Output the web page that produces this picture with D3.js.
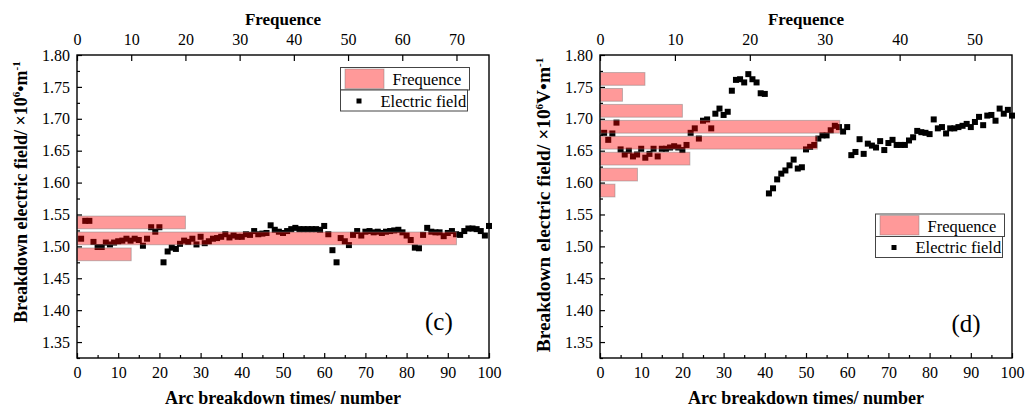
<!DOCTYPE html>
<html><head><meta charset="utf-8">
<script src="https://cdn.jsdelivr.net/npm/d3@7"></script>
<style>body{margin:0;background:#fff} svg text{font-family:'Liberation Serif','Times New Roman',serif}</style>
</head><body><svg id="c" width="1032" height="409"></svg>
<script>
const breakdownNumber = d3.range(1, 101);
const fieldC = [1.512,1.540,1.540,1.507,1.499,1.499,1.506,1.503,1.506,1.508,
1.509,1.512,1.509,1.512,1.510,1.501,1.512,1.530,1.523,1.530,
1.475,1.492,1.498,1.496,1.504,1.509,1.507,1.512,1.503,1.515,
1.505,1.508,1.512,1.513,1.515,1.519,1.514,1.517,1.515,1.515,
1.519,1.518,1.524,1.519,1.520,1.521,1.533,1.526,1.523,1.521,
1.524,1.527,1.529,1.527,1.527,1.527,1.527,1.527,1.526,1.532,
1.519,1.494,1.475,1.513,1.508,1.502,1.518,1.524,1.517,1.523,
1.524,1.522,1.523,1.521,1.523,1.524,1.525,1.526,1.522,1.517,
1.510,1.498,1.497,1.518,1.529,1.523,1.522,1.522,1.516,1.521,
1.524,1.519,1.518,1.524,1.528,1.528,1.527,1.524,1.517,1.532];
const fieldD = [1.678,1.667,1.677,1.694,1.652,1.644,1.650,1.641,1.644,1.653,
1.639,1.645,1.653,1.641,1.653,1.653,1.655,1.657,1.655,1.651,
1.659,1.678,1.685,1.669,1.697,1.699,1.685,1.708,1.716,1.706,
1.711,1.744,1.761,1.762,1.757,1.770,1.762,1.757,1.740,1.739,
1.583,1.591,1.605,1.614,1.619,1.627,1.636,1.622,1.624,1.652,
1.656,1.659,1.669,1.674,1.674,1.682,1.689,1.687,1.680,1.687,
1.643,1.648,1.668,1.645,1.661,1.658,1.655,1.665,1.651,1.662,
1.667,1.659,1.659,1.659,1.666,1.671,1.681,1.679,1.678,1.676,
1.699,1.685,1.687,1.677,1.685,1.685,1.687,1.689,1.692,1.687,
1.695,1.703,1.690,1.705,1.706,1.697,1.716,1.708,1.714,1.705];
const binCentersC = [1.4875, 1.5125, 1.5375];
const binCountsC = [10, 70, 20];
const binCentersD = [1.5875, 1.6125, 1.6375, 1.6625, 1.6875, 1.7125, 1.7375, 1.7625];
const binCountsD = [2, 5, 12, 29, 32, 11, 3, 6];
const binWidth = 0.025;
const xTicks = [0,10,20,30,40,50,60,70,80,90,100];
const yTicks = [1.35,1.40,1.45,1.50,1.55,1.60,1.65,1.70,1.75,1.80];
const freqTicksC = [0,10,20,30,40,50,60,70];
const freqTicksD = [0,10,20,30,40,50];
const panelLabels = ["(c)", "(d)"];
const legendLabels = ["Frequence", "Electric field"];
const xTitle = "Arc breakdown times/ number";
const topTitle = "Frequence";

const svg = d3.select("#c");
const FONT = "'Liberation Serif','Times New Roman',serif";

function panel(o) {
  const x = d3.scaleLinear().domain([0, 100]).range([o.x0, o.x1]);
  const y = d3.scaleLinear().domain([1.325, 1.80]).range([358, 55]);
  const f = d3.scaleLinear().domain([0, o.fmax]).range([o.x0, o.x1]);
  const g = svg.append("g");

  // points
  g.append("g").selectAll("rect").data(o.values).join("rect")
    .attr("x", (d, i) => x(breakdownNumber[i]) - 3)
    .attr("y", d => y(d) - 3)
    .attr("width", 6).attr("height", 6).attr("fill", "#000");

  // frequency bars
  const bh = (y(0) - y(binWidth)) * 0.8;
  g.append("g").selectAll("rect").data(o.centers).join("rect")
    .attr("x", f(0))
    .attr("y", d => y(d) - bh / 2)
    .attr("width", (d, i) => f(o.counts[i]) - f(0))
    .attr("height", bh)
    .attr("fill", "#ff0000").attr("fill-opacity", 0.4)
    .attr("stroke", "#777").attr("stroke-opacity", 0.45).attr("stroke-width", 1);

  // axes
  const fs = "16px";
  const styleAxis = sel => {
    sel.select(".domain").remove();
    sel.attr("font-family", null);
    sel.selectAll("text").style("font-family", FONT).style("font-size", fs).attr("fill", "#000");
    sel.selectAll("line").attr("stroke", "#000").attr("stroke-width", 1.2);
  };
  g.append("g").attr("transform", `translate(0,358)`)
    .call(d3.axisBottom(x).tickValues(xTicks).tickFormat(d3.format("d")).tickSizeInner(-5).tickSizeOuter(0).tickPadding(9)).call(styleAxis);
  g.append("g").attr("transform", `translate(0,358)`)
    .call(d3.axisBottom(x).tickValues(d3.range(5, 100, 10)).tickFormat("").tickSizeInner(-3).tickSizeOuter(0)).call(styleAxis);
  g.append("g").attr("transform", `translate(${o.x0},0)`)
    .call(d3.axisLeft(y).tickValues(yTicks).tickFormat(d3.format(".2f")).tickSizeInner(-5).tickSizeOuter(0).tickPadding(7)).call(styleAxis);
  g.append("g").attr("transform", `translate(${o.x0},0)`)
    .call(d3.axisLeft(y).tickValues(yTicks.map(v => v - 0.025)).tickFormat("").tickSizeInner(-3).tickSizeOuter(0)).call(styleAxis);
  g.append("g").attr("transform", `translate(0,55)`)
    .call(d3.axisTop(f).tickValues(o.fticks).tickFormat(d3.format("d")).tickSizeInner(-6).tickSizeOuter(0).tickPadding(10)).call(styleAxis);

  // frame
  g.append("rect").attr("x", o.x0).attr("y", 55).attr("width", o.x1 - o.x0).attr("height", 303)
    .attr("fill", "none").attr("stroke", "#000").attr("stroke-width", 1.4);

  // titles
  const cx = (o.x0 + o.x1) / 2;
  g.append("text").attr("x", cx).attr("y", 25).attr("text-anchor", "middle")
    .style("font-family", FONT).attr("font-weight", "bold").attr("font-size", "17px").text(topTitle);
  g.append("text").attr("x", cx).attr("y", 404).attr("text-anchor", "middle")
    .style("font-family", FONT).attr("font-weight", "bold").attr("font-size", "18px").text(xTitle);
  const yt = g.append("text").attr("transform", `translate(${o.ytx},${o.yty}) rotate(-90)`)
    .attr("text-anchor", "middle").style("font-family", FONT).attr("font-weight", "bold").attr("font-size", o.ytfs + "px");
  yt.append("tspan").text("Breakdown electric field/ ×10");
  yt.append("tspan").attr("dy", -7).attr("font-size", "11px").text("6");
  yt.append("tspan").attr("dy", 7).text(o.unit + "•m");
  yt.append("tspan").attr("dy", -7).attr("font-size", "11px").text("-1");

  // panel label
  g.append("text").attr("x", o.lx).attr("y", o.ly).style("font-family", FONT).attr("font-size", "25px").text(o.label);

  // legend
  const L = o.leg;
  g.append("rect").attr("x", L.x).attr("y", L.y).attr("width", L.w1).attr("height", 22.5)
    .attr("fill", "#fff").attr("stroke", "#444").attr("stroke-width", 1);
  g.append("rect").attr("x", L.x).attr("y", L.y + 22.5).attr("width", L.w2).attr("height", 21)
    .attr("fill", "#fff").attr("stroke", "#444").attr("stroke-width", 1);
  g.append("rect").attr("x", L.x + 4.5).attr("y", L.y + 1.5).attr("width", 39).attr("height", 19.5)
    .attr("fill", "#ff0000").attr("fill-opacity", 0.4).attr("stroke", "#777").attr("stroke-opacity", 0.45);
  g.append("text").attr("x", L.x + 52).attr("y", L.y + 17.5).style("font-family", FONT).attr("font-size", "16.5px").text(legendLabels[0]);
  g.append("rect").attr("x", L.x + 16).attr("y", L.y + 31).attr("width", 5).attr("height", 5).attr("fill", "#000");
  g.append("text").attr("x", L.x + 40).attr("y", L.y + 39).style("font-family", FONT).attr("font-size", "16.5px").text(legendLabels[1]);
}

panel({x0: 77, x1: 489, fmax: 76, fticks: freqTicksC, values: fieldC, centers: binCentersC, counts: binCountsC,
  unit: "", ytx: 27, yty: 192, ytfs: 18, label: panelLabels[0], lx: 425, ly: 330,
  leg: {x: 340.5, y: 67.5, w1: 129, w2: 127}});
panel({x0: 600, x1: 1012, fmax: 55, fticks: freqTicksD, values: fieldD, centers: binCentersD, counts: binCountsD,
  unit: "V", ytx: 550, yty: 205, ytfs: 19.4, label: panelLabels[1], lx: 951.5, ly: 331.5,
  leg: {x: 875.5, y: 214, w1: 129, w2: 127}});
</script></body></html>
